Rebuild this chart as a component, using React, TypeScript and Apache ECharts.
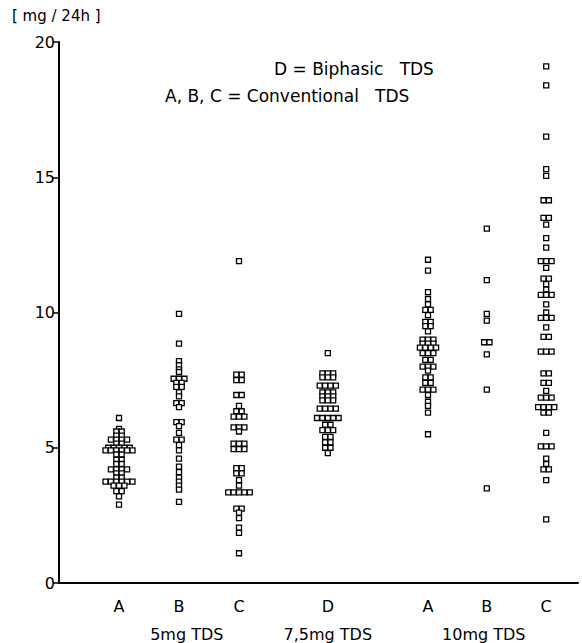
import React, { useEffect, useRef } from 'react';
import * as echarts from 'echarts';

// ---- data ----
const categories = ['A', 'B', 'C', 'D', 'A', 'B', 'C'];
const groupNames = ['5mg TDS', '7,5mg TDS', '10mg TDS'];
const yTicks = [0, 5, 10, 15, 20];
const yAxisName = '[ mg / 24h ]';
const legendLines = ['D = Biphasic   TDS', 'A, B, C = Conventional   TDS'];

const mg5A = [6.1, 5.7, 5.6, 5.6, 5.45, 5.45, 5.3, 5.3, 5.3, 5.3, 5.15, 5.15, 5.0, 5.0, 5.0, 5.0, 5.0,
  4.9, 4.9, 4.9, 4.9, 4.9, 4.9, 4.75, 4.75, 4.55, 4.55, 4.4, 4.4, 4.2, 4.2, 4.2, 4.2, 4.05, 4.05,
  3.9, 3.9, 3.75, 3.75, 3.75, 3.75, 3.75, 3.75, 3.6, 3.6, 3.6, 3.4, 3.4, 3.2, 2.9];
const mg5B = [9.95, 8.85, 8.2, 8.05, 7.9, 7.8, 7.55, 7.55, 7.55, 7.4, 7.4, 7.25, 7.25, 7.05, 6.9, 6.65, 6.65,
  6.5, 5.95, 5.95, 5.8, 5.55, 5.3, 5.3, 5.1, 4.9, 4.6, 4.3, 4.1, 3.9, 3.75, 3.6, 3.45, 3.0];
const mg5C = [11.9, 7.7, 7.7, 7.5, 7.5, 6.95, 6.95, 6.55, 6.35, 6.35, 6.15, 6.15, 6.15, 5.75, 5.75, 5.75, 5.6,
  5.15, 5.15, 5.15, 4.95, 4.95, 4.95, 4.25, 4.25, 4.05, 4.05, 3.8, 3.6, 3.35, 3.35, 3.35, 3.35, 3.35,
  2.75, 2.75, 2.6, 2.4, 2.05, 1.85, 1.1];
const mg75D = [8.5, 7.75, 7.75, 7.75, 7.6, 7.6, 7.6, 7.3, 7.3, 7.3, 7.3, 7.05, 7.05, 7.05, 6.9, 6.9, 6.9,
  6.75, 6.75, 6.75, 6.45, 6.45, 6.45, 6.45, 6.1, 6.1, 6.1, 6.1, 6.1, 5.85, 5.85, 5.65, 5.65, 5.65,
  5.4, 5.4, 5.2, 5.2, 5.0, 5.0, 4.8];
const mg10A = [11.95, 11.55, 10.75, 10.5, 10.3, 10.1, 10.1, 9.9, 9.65, 9.65, 9.5, 9.5, 9.3, 9.0, 9.0, 9.0,
  8.85, 8.85, 8.85, 8.7, 8.7, 8.7, 8.7, 8.5, 8.5, 8.5, 8.25, 8.25, 8.0, 8.0, 8.0, 7.85, 7.6, 7.6,
  7.4, 7.4, 7.15, 7.15, 7.15, 6.95, 6.7, 6.55, 6.3, 5.5];
const mg10B = [13.1, 11.2, 9.95, 9.7, 8.9, 8.9, 8.45, 7.15, 3.5];
const mg10C = [19.1, 18.4, 16.5, 15.3, 15.05, 14.15, 14.15, 13.5, 13.5, 13.25, 12.75, 12.4, 11.9, 11.9, 11.9,
  11.65, 11.25, 11.25, 11.05, 10.85, 10.65, 10.65, 10.65, 10.3, 10.0, 9.8, 9.8, 9.8, 9.45, 9.1, 9.1,
  8.55, 8.55, 8.55, 7.75, 7.75, 7.4, 7.4, 7.1, 6.85, 6.85, 6.85, 6.5, 6.5, 6.5, 6.5, 6.3, 6.3, 5.55,
  5.05, 5.05, 5.05, 4.6, 4.4, 4.2, 4.2, 3.8, 2.35];
const groupValues = [mg5A, mg5B, mg5C, mg75D, mg10A, mg10B, mg10C];

// ---- layout ----
const CAT_POS = [1, 2, 3, 4.48, 6.15, 7.13, 8.12];
const GROUP_POS = [2.13, 4.48, 7.08];
const BOX = 5;
const STEP = 5.4;
const FONT = '"DejaVu Sans", sans-serif';

function dodge(values: number[]): number[] {
  const counts = new Map<number, number>();
  values.forEach((v) => counts.set(v, (counts.get(v) || 0) + 1));
  const seen = new Map<number, number>();
  return values.map((v) => {
    const n = counts.get(v) || 1;
    const k = seen.get(v) || 0;
    seen.set(v, k + 1);
    return k - (n - 1) / 2;
  });
}

export default function App() {
  const ref = useRef<HTMLDivElement>(null);
  useEffect(() => {
    if (!ref.current) return;
    const chart = echarts.init(ref.current, undefined, { renderer: 'svg' });
    const points: number[][] = [];
    groupValues.forEach((vals, gi) => {
      const off = dodge(vals);
      vals.forEach((v, i) => points.push([CAT_POS[gi], v, off[i]]));
    });
    const textStyle = { fill: '#000', fontSize: 16, fontFamily: FONT, align: 'center', verticalAlign: 'middle' };
    const option = {
      animation: false,
      backgroundColor: '#fff',
      grid: { left: 59, right: 4, top: 42, bottom: 60 },
      xAxis: {
        type: 'value', min: 0, max: 8.65,
        axisLine: { show: true, onZero: false, lineStyle: { color: '#000', width: 2 } },
        axisTick: { show: false }, axisLabel: { show: false }, splitLine: { show: false },
      },
      yAxis: {
        type: 'value', min: yTicks[0], max: yTicks[yTicks.length - 1], interval: 5,
        axisLine: { show: true, lineStyle: { color: '#000', width: 2 } },
        axisTick: { show: true, length: 6, lineStyle: { color: '#000', width: 1.5 } },
        axisLabel: { color: '#000', fontSize: 16, margin: 4, fontFamily: FONT },
        splitLine: { show: false },
      },
      graphic: [
        { type: 'text', left: 12, top: 8, style: { text: yAxisName, fill: '#000', fontSize: 15, fontFamily: FONT } },
        { type: 'text', left: 274, top: 60, style: { text: legendLines[0], fill: '#000', fontSize: 17, fontFamily: FONT } },
        { type: 'text', left: 165, top: 87, style: { text: legendLines[1], fill: '#000', fontSize: 17, fontFamily: FONT } },
      ],
      series: [
        {
          type: 'custom', clip: false, data: points,
          renderItem: (params: any, api: any) => {
            const p = api.coord([api.value(0), api.value(1)]);
            const x = p[0] + api.value(2) * STEP;
            return {
              type: 'rect',
              shape: { x: x - BOX / 2, y: p[1] - BOX / 2, width: BOX, height: BOX },
              style: { fill: '#fff', stroke: '#000', lineWidth: 1.3 },
            };
          },
        },
        {
          type: 'custom', clip: false, silent: true,
          data: CAT_POS.map((p) => [p, 0]),
          renderItem: (params: any, api: any) => {
            const p = api.coord([api.value(0), 0]);
            return { type: 'text', x: p[0], y: p[1] + 23, style: { ...textStyle, text: categories[params.dataIndex] } };
          },
        },
        {
          type: 'custom', clip: false, silent: true,
          data: GROUP_POS.map((p) => [p, 0]),
          renderItem: (params: any, api: any) => {
            const p = api.coord([api.value(0), 0]);
            return { type: 'text', x: p[0], y: p[1] + 51, style: { ...textStyle, text: groupNames[params.dataIndex] } };
          },
        },
      ],
    };
    chart.setOption(option as any);
    return () => chart.dispose();
  }, []);
  return <div ref={ref} style={{ position: 'fixed', left: 0, top: 0, width: 582, height: 643 }} />;
}
